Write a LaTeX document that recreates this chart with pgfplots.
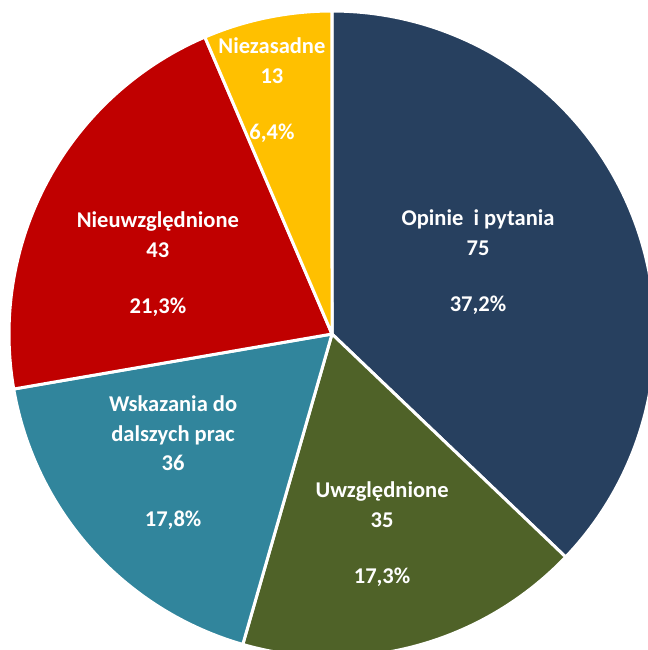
\documentclass[border=0pt]{standalone}
\usepackage{pgfplots}
\usepackage{pgfplotstable}
\pgfplotsset{compat=1.18}
\usepackage{fontspec}
\setmainfont{Carlito}
\definecolor{cOpi}{HTML}{27405F}
\definecolor{cUwz}{HTML}{4F6228}
\definecolor{cWsk}{HTML}{31859C}
\definecolor{cNie}{HTML}{C00000}
\definecolor{cNza}{HTML}{FFC000}
\tikzset{lbl/.style={align=center, text=white, inner sep=0pt, font=\bfseries\fontsize{11.3}{15}\selectfont}}
\pgfplotstableread{
label value
Opinie 75
Uwzglednione 35
Wskazania 36
Nieuwzglednione 43
Niezasadne 13
}\piedata
\begin{document}
\begin{tikzpicture}
\pgfplotstablegetelem{0}{value}\of\piedata \edef\vA{\pgfplotsretval}
\pgfplotstablegetelem{1}{value}\of\piedata \edef\vB{\pgfplotsretval}
\pgfplotstablegetelem{2}{value}\of\piedata \edef\vC{\pgfplotsretval}
\pgfplotstablegetelem{3}{value}\of\piedata \edef\vD{\pgfplotsretval}
\pgfplotstablegetelem{4}{value}\of\piedata \edef\vE{\pgfplotsretval}
\pgfmathsetmacro\tot{\vA+\vB+\vC+\vD+\vE}
\pgfmathsetmacro\aO{90}
\pgfmathsetmacro\aA{90-360*(\vA/\tot)}
\pgfmathsetmacro\aB{\aA-360*(\vB/\tot)}
\pgfmathsetmacro\aC{\aB-360*(\vC/\tot)}
\pgfmathsetmacro\aD{\aC-360*(\vD/\tot)}
\pgfmathsetmacro\aE{\aD-360*(\vE/\tot)}
\begin{axis}[
  x=162pt, y=162pt,
  xmin=-1.0279, xmax=0.9783, ymin=-0.9783, ymax=1.0341,
  hide axis, clip=true,
  every axis plot/.append style={draw=white, line width=1.5pt, line join=round, samples=120, variable=\t},
]
\addplot[fill=cOpi, domain=\aA:\aO] ({cos(t)},{sin(t)}) -- (axis cs:0,0) -- cycle;
\addplot[fill=cUwz, domain=\aB:\aA] ({cos(t)},{sin(t)}) -- (axis cs:0,0) -- cycle;
\addplot[fill=cWsk, domain=\aC:\aB] ({cos(t)},{sin(t)}) -- (axis cs:0,0) -- cycle;
\addplot[fill=cNie, domain=\aD:\aC] ({cos(t)},{sin(t)}) -- (axis cs:0,0) -- cycle;
\addplot[fill=cNza, domain=\aE:\aD] ({cos(t)},{sin(t)}) -- (axis cs:0,0) -- cycle;
\node[lbl] at (axis cs:0.452,0.223) {Opinie\ \ i pytania\\75\\[13pt]37,2\%};
\node[lbl] at (axis cs:0.155,-0.619) {Uwzględnione\\35\\[13pt]17,3\%};
\node[lbl] at (axis cs:-0.492,-0.398) {Wskazania do\\dalszych prac\\36\\[13pt]17,8\%};
\node[lbl] at (axis cs:-0.539,0.217) {Nieuwzględnione\\43\\[13pt]21,3\%};
\node[lbl] at (axis cs:-0.186,0.755) {Niezasadne\\13\\[13pt]6,4\%};
\end{axis}
\pgfresetboundingbox
\useasboundingbox (current axis.south west) rectangle (current axis.north east);
\end{tikzpicture}
\end{document}
